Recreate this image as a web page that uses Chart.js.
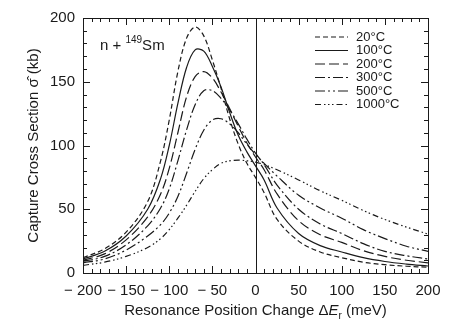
<!DOCTYPE html>
<html>
<head>
<meta charset="utf-8">
<script src="https://cdn.jsdelivr.net/npm/chart.js@4.4.0/dist/chart.umd.min.js"></script>
<style>
  html, body { margin: 0; padding: 0; background: #fff; }
</style>
</head>
<body>
<canvas id="chart" width="469" height="332"></canvas>
<script>
// resonance shift (meV) and capture cross section (kb) per temperature
const energies = [-200, -175, -150, -125, -110, -100, -90, -80, -70, -60, -50, -40, -30, -20, -10, 0, 10, 25, 50, 75, 100, 125, 150, 175, 200];
const temps = ['20°C', '100°C', '200°C', '300°C', '500°C', '1000°C'];
const sigma20C   = [12, 19, 32, 56, 88, 120, 158, 184, 193, 186, 167, 145, 121, 101, 86, 75, 63, 42, 25, 16.5, 12, 8.5, 6.5, 5.3, 4.5];
const sigma100C  = [11, 17, 29, 50, 74, 100, 133, 161, 175, 174, 162, 146, 126, 108, 95, 84, 73, 51, 31, 21.5, 16.5, 12, 9, 7, 5.5];
const sigma200C  = [10, 15, 26, 44, 62, 82, 110, 138, 154, 158, 153, 142, 129, 115, 102, 91, 81, 62, 41, 30, 24, 17.5, 13, 10, 8];
const sigma300C  = [9, 13, 22, 37, 51, 66, 88, 112, 132, 143, 143, 137, 128, 117, 105, 94, 85, 69, 50, 38.5, 31, 23, 17, 13.5, 11];
const sigma500C  = [8, 11, 18, 29, 38, 47, 60, 78, 97, 112, 120, 121, 117, 110, 101, 93, 86, 76, 61, 51, 43, 34, 27, 21, 17];
const sigma1000C = [6, 8.5, 13, 20, 27, 34, 43, 53, 64, 74, 81, 86, 88, 88.5, 88, 87, 85, 81, 73, 64.5, 57, 49, 42, 36, 30.5];
const xTicks = [-200, -150, -100, -50, 0, 50, 100, 150, 200];
const yTicks = [0, 50, 100, 150, 200];

const series = [sigma20C, sigma100C, sigma200C, sigma300C, sigma500C, sigma1000C];
const dashes = [[5, 3], [], [10, 4], [10, 3, 2, 3], [10, 3, 2, 3, 2, 3], [6, 3, 1.5, 2.5, 1.5, 2.5, 1.5, 3]];
const ink = '#1a1a1a';
const font = '"Liberation Sans", Arial, sans-serif';

const frame = {
  id: 'frame',
  afterDraw(chart) {
    const { ctx, chartArea: a, scales: { x, y } } = chart;
    ctx.save();
    ctx.strokeStyle = ink;
    ctx.lineWidth = 1;
    ctx.setLineDash([]);
    const seg = (x0, y0, x1, y1) => { ctx.beginPath(); ctx.moveTo(x0, y0); ctx.lineTo(x1, y1); ctx.stroke(); };

    ctx.strokeRect(a.left + 0.5, a.top + 0.5, a.right - a.left, a.bottom - a.top);

    // inward ticks on all four sides, minor every 10
    for (let v = x.min; v <= x.max; v += 10) {
      const px = Math.round(x.getPixelForValue(v)) + 0.5;
      const len = v % 50 === 0 ? 7 : 4;
      seg(px, a.bottom, px, a.bottom - len);
      seg(px, a.top, px, a.top + len);
    }
    for (let v = y.min; v <= y.max; v += 10) {
      const py = Math.round(y.getPixelForValue(v)) + 0.5;
      const len = v % 50 === 0 ? 7 : 4;
      seg(a.left, py, a.left + len, py);
      seg(a.right, py, a.right - len, py);
    }

    // zero shift line
    const x0 = Math.round(x.getPixelForValue(0)) + 0.5;
    seg(x0, a.top, x0, a.bottom);

    // legend
    ctx.fillStyle = ink;
    ctx.font = '13px ' + font;
    ctx.textBaseline = 'middle';
    chart.data.datasets.forEach((ds, i) => {
      const ly = 37 + i * 13.5;
      ctx.lineWidth = ds.borderWidth;
      ctx.setLineDash(ds.borderDash);
      seg(315, ly, 348, ly);
      ctx.fillText(ds.label, 356, ly);
    });
    ctx.setLineDash([]);

    // n + 149Sm
    ctx.textBaseline = 'alphabetic';
    ctx.font = '15px ' + font;
    let tx = 100;
    ctx.fillText('n + ', tx, 50);
    tx += ctx.measureText('n + ').width;
    ctx.font = '10px ' + font;
    ctx.fillText('149', tx, 43);
    tx += ctx.measureText('149').width;
    ctx.font = '15px ' + font;
    ctx.fillText('Sm', tx, 50);

    // x title with italic E and subscript r
    const parts = [
      ['Resonance Position Change Δ', '15px ' + font, 0],
      ['E', 'italic 15px ' + font, 0],
      ['r', '10px ' + font, 4],
      [' (meV)', '15px ' + font, 0]
    ];
    let total = 0;
    parts.forEach(p => { ctx.font = p[1]; total += ctx.measureText(p[0]).width; });
    tx = (a.left + a.right) / 2 - total / 2;
    parts.forEach(p => {
      ctx.font = p[1];
      ctx.fillText(p[0], tx, 315 + p[2]);
      tx += ctx.measureText(p[0]).width;
    });

    // y title
    ctx.translate(38, (a.top + a.bottom) / 2);
    ctx.rotate(-Math.PI / 2);
    ctx.font = '15px ' + font;
    ctx.textAlign = 'center';
    ctx.fillText('Capture Cross Section σ̂ (kb)', 0, 0);
    ctx.restore();
  }
};

new Chart(document.getElementById('chart'), {
  type: 'line',
  data: {
    datasets: series.map((s, i) => ({
      label: temps[i],
      data: energies.map((e, k) => ({ x: e, y: s[k] })),
      borderColor: ink,
      borderWidth: 1.2,
      borderDash: dashes[i],
      pointRadius: 0,
      tension: 0.35,
      fill: false
    }))
  },
  options: {
    responsive: false,
    animation: false,
    layout: { padding: { left: 0, right: 41, top: 18, bottom: 0 } },
    plugins: { legend: { display: false }, tooltip: { enabled: false } },
    scales: {
      x: {
        type: 'linear', min: -200, max: 200,
        afterBuildTicks: s => { s.ticks = xTicks.map(v => ({ value: v })); },
        afterFit: s => { s.height = 59; },
        grid: { display: false, drawTicks: false },
        border: { display: false },
        ticks: {
          padding: 9, color: ink, font: { family: font, size: 15 },
          maxRotation: 0, autoSkip: false,
          callback: v => v < 0 ? '\u2212 ' + Math.abs(v) : String(v)
        }
      },
      y: {
        min: 0, max: 200,
        afterBuildTicks: s => { s.ticks = yTicks.map(v => ({ value: v })); },
        afterFit: s => { s.width = 83; },
        grid: { display: false, drawTicks: false },
        border: { display: false },
        ticks: { padding: 8, color: ink, font: { family: font, size: 15 } }
      }
    }
  },
  plugins: [frame]
});
</script>
</body>
</html>
